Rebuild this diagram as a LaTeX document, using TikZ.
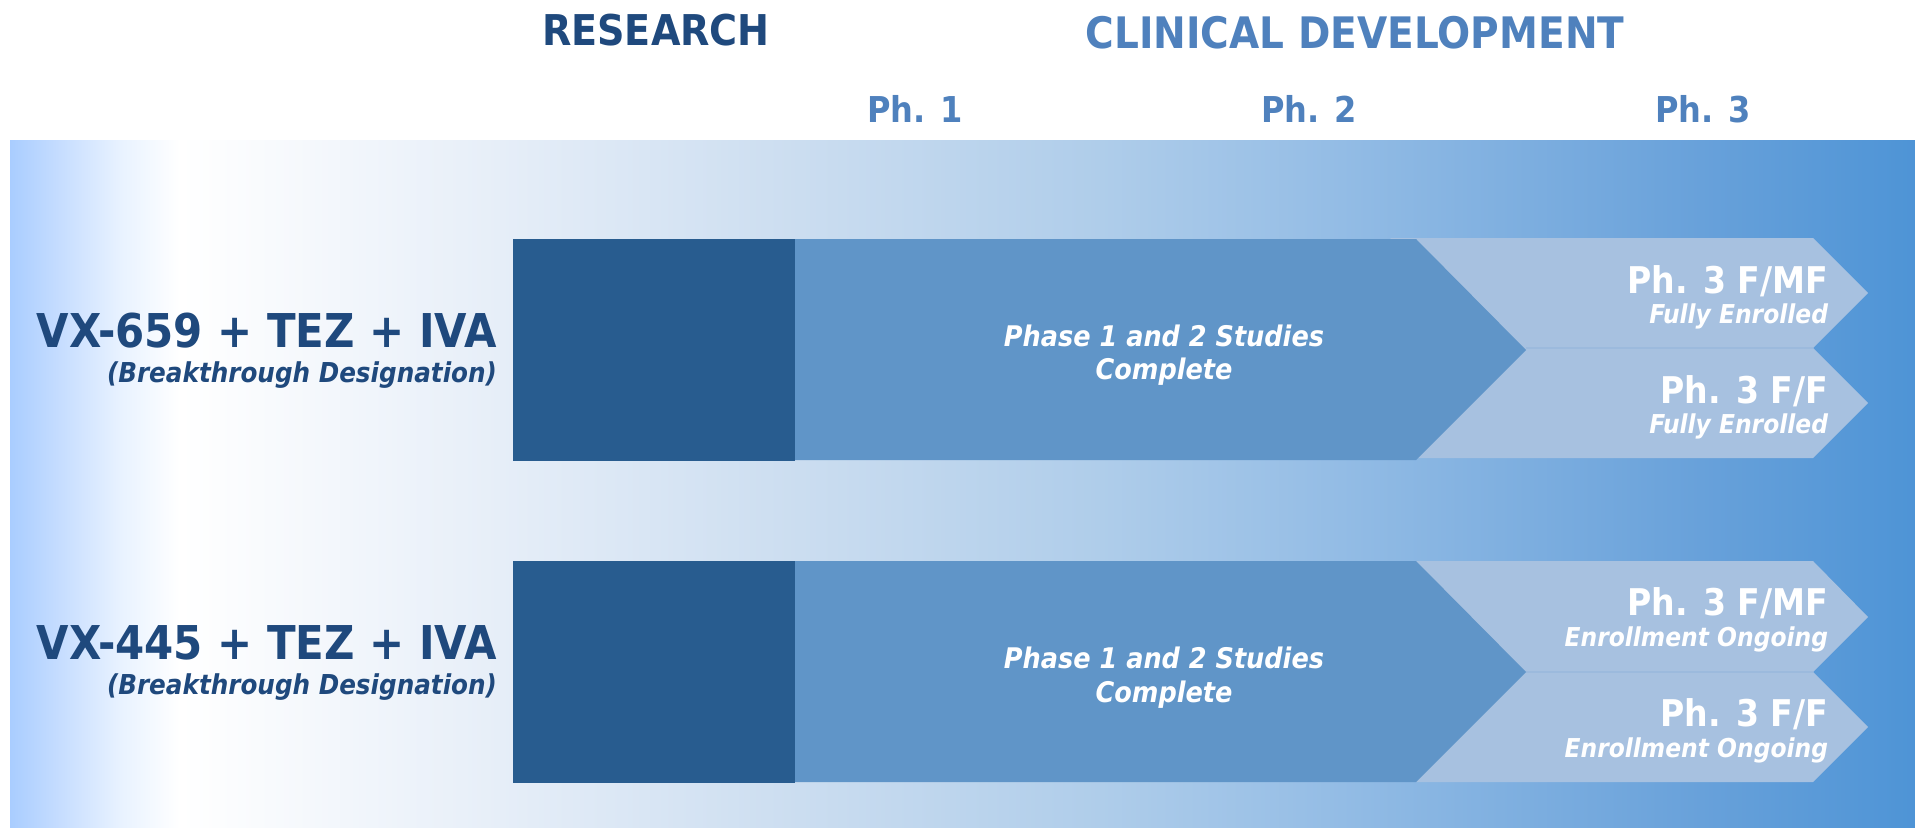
\documentclass[tikz,border=0pt]{standalone}
\usepackage{fontspec}
\setmainfont{DejaVu Sans}[FakeStretch=0.9]
\definecolor{navyc}{HTML}{1F497D}
\definecolor{blueh}{HTML}{4F81BD}
\definecolor{darkbox}{HTML}{285C8F}
\definecolor{midbox}{HTML}{6095C8}
\definecolor{chev}{HTML}{A7C1E0}
\definecolor{chevline}{HTML}{9CBADD}
\definecolor{bA}{HTML}{A9CDFF}
\definecolor{bB}{HTML}{C6DDFF}
\definecolor{bC}{HTML}{E8F2FF}
\definecolor{bD}{HTML}{FFFFFF}
\definecolor{bE}{HTML}{E6EEF8}
\definecolor{bF}{HTML}{CBDDF0}
\definecolor{bG}{HTML}{AFCDEA}
\definecolor{bH}{HTML}{98BFE6}
\definecolor{bI}{HTML}{80B0E0}
\definecolor{bJ}{HTML}{68A1DA}
\definecolor{bK}{HTML}{4E94D6}
\pgfdeclarehorizontalshading{bandshade}{100bp}{color(0bp)=(bA); color(25bp)=(bA); color(26.31bp)=(bB); color(27.89bp)=(bC); color(29.46bp)=(bD); color(37.86bp)=(bE); color(45.73bp)=(bF); color(53.61bp)=(bG); color(58.86bp)=(bH); color(64.11bp)=(bI); color(69.36bp)=(bJ); color(75bp)=(bK); color(100bp)=(bK)}
\tikzset{
  txt/.style={inner sep=0pt, outer sep=0pt},
  sechead/.style={txt, font=\bfseries\fontsize{21.2}{26}\selectfont},
  phhead/.style={txt, text=blueh, font=\bfseries\fontsize{17.8}{22}\selectfont},
  drug/.style={txt, text=navyc, anchor=base east, font=\bfseries\fontsize{23.3}{27}\selectfont},
  desig/.style={txt, text=navyc, anchor=base east, font=\bfseries\itshape\fontsize{13.7}{16}\selectfont},
  phase/.style={txt, text=white, anchor=base, font=\bfseries\itshape\fontsize{14.2}{17}\selectfont},
  chevhead/.style={txt, text=white, anchor=base east, font=\bfseries\fontsize{18.4}{22}\selectfont},
  chevsub/.style={txt, text=white, anchor=base east, font=\bfseries\itshape\fontsize{13}{15}\selectfont},
  darkfill/.style={fill=darkbox},
  midfill/.style={fill=midbox},
  chevfill/.style={fill=chev},
  sepline/.style={draw=chevline, line width=0.6pt}
}
\begin{document}
\begin{tikzpicture}[x=0.5pt,y=-0.5pt]
\useasboundingbox (0,0) rectangle (1915,827);
% background band
\shade[shading=bandshade] (10,140) rectangle (1915,827);

% headers
\node[sechead, text=navyc, anchor=base] (research) at (656,45) {RESEARCH};
\node[sechead, text=blueh, anchor=base, font=\bfseries\fontsize{21.7}{26}\selectfont] (clinical) at (1355,48) {CLINICAL DEVELOPMENT};
\node[phhead, anchor=base] (ph1) at (915,122) {Ph. 1};
\node[phhead, anchor=base] (ph2) at (1309,122) {Ph. 2};
\node[phhead, anchor=base] (ph3) at (1703,122) {Ph. 3};

% ---------- row 1 ----------
\fill[chevfill] (1390,238) -- (1813,238) -- (1868,293) -- (1813,348) -- (1500,348) -- cycle;
\fill[chevfill] (1500,348) -- (1813,348) -- (1868,403) -- (1813,458) -- (1416,458) -- cycle;
\draw[sepline] (1526,348) -- (1813,348);
\fill[midfill] (795,239) -- (1416,239) -- (1526,350) -- (1416,460) -- (795,460) -- cycle;
\fill[darkfill] (513,239) rectangle (795,461);

\node[drug] (d1) at (497,347) {VX-659 + TEZ + IVA};
\node[desig] (b1) at (497,382) {(Breakthrough Designation)};
\node[phase] (p1a) at (1164,346) {Phase 1 and 2 Studies};
\node[phase] (p1b) at (1164,379) {Complete};
\node[chevhead] (c1a) at (1828,293) {Ph. 3 F/MF};
\node[chevsub] (c1b) at (1828,323) {Fully Enrolled};
\node[chevhead] (c1c) at (1828,403) {Ph. 3 F/F};
\node[chevsub] (c1d) at (1828,433) {Fully Enrolled};

% ---------- row 2 ----------
\fill[chevfill] (1390,561) -- (1813,561) -- (1868,617) -- (1813,672) -- (1500,672) -- cycle;
\fill[chevfill] (1500,672) -- (1813,672) -- (1868,727) -- (1813,782) -- (1416,782) -- cycle;
\draw[sepline] (1526,672) -- (1813,672);
\fill[midfill] (795,561) -- (1416,561) -- (1526,672) -- (1416,782) -- (795,782) -- cycle;
\fill[darkfill] (513,561) rectangle (795,783);

\node[drug] (d2) at (497,659) {VX-445 + TEZ + IVA};
\node[desig] (b2) at (497,694) {(Breakthrough Designation)};
\node[phase] (p2a) at (1164,668) {Phase 1 and 2 Studies};
\node[phase] (p2b) at (1164,702) {Complete};
\node[chevhead] (c2a) at (1828,615) {Ph. 3 F/MF};
\node[chevsub] (c2b) at (1828,646) {Enrollment Ongoing};
\node[chevhead] (c2c) at (1828,726) {Ph. 3 F/F};
\node[chevsub] (c2d) at (1828,757) {Enrollment Ongoing};
\end{tikzpicture}
\end{document}
